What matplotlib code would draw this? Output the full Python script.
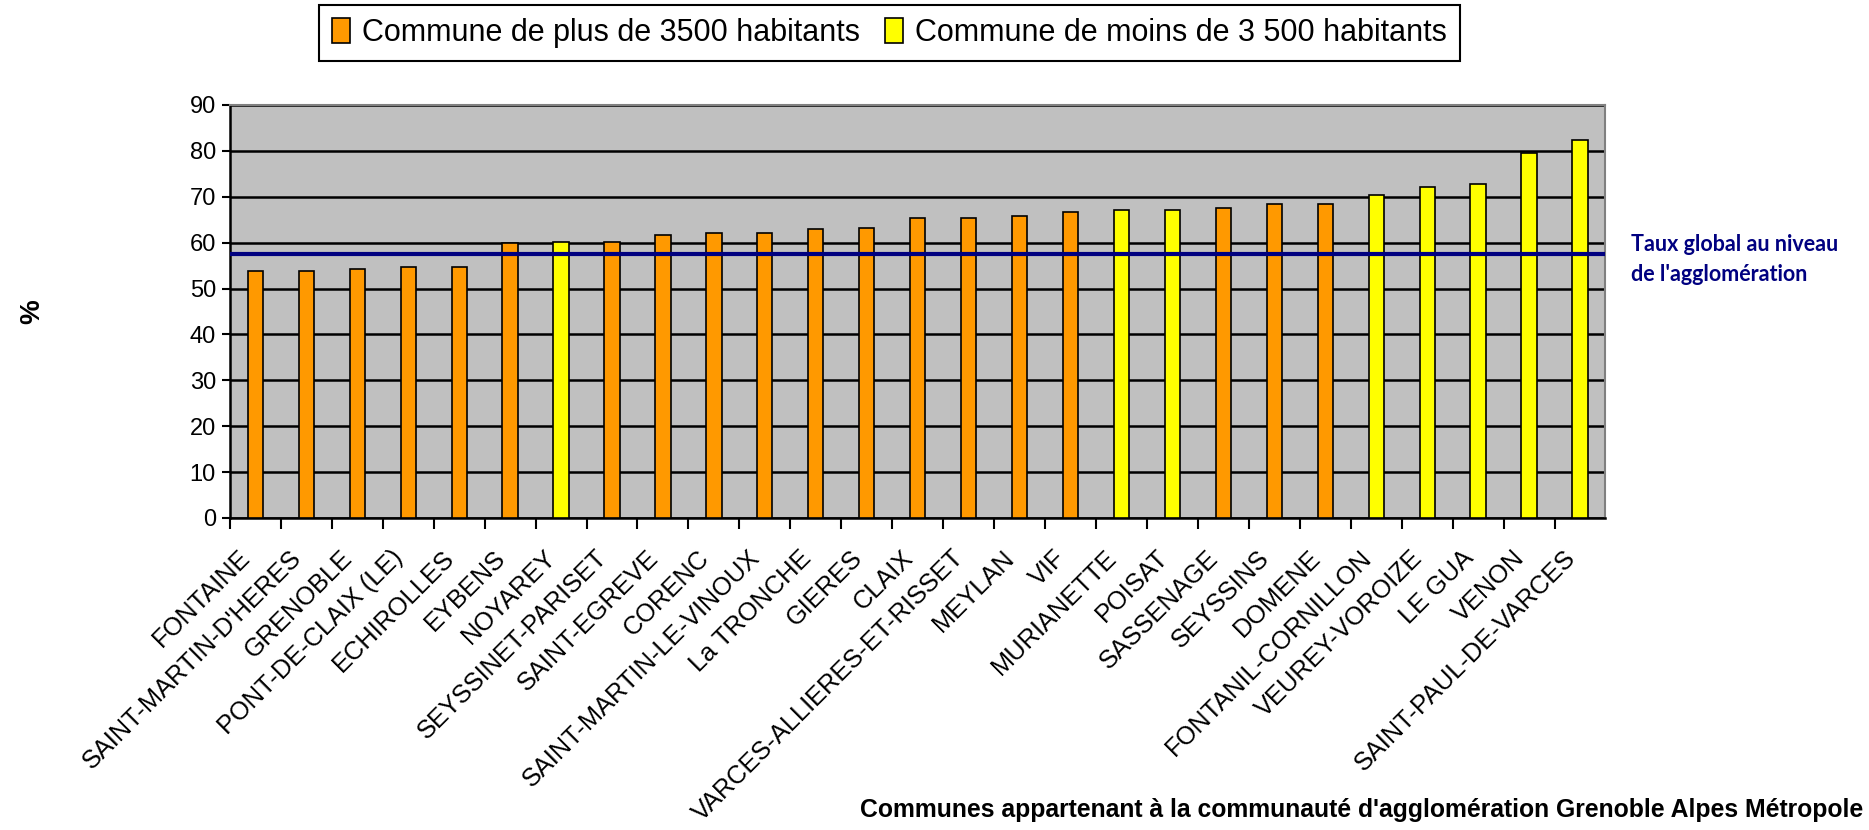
import matplotlib
matplotlib.use("Agg")
import matplotlib.pyplot as plt
from matplotlib.patches import Patch
from matplotlib import font_manager
from matplotlib.transforms import ScaledTranslation

communes = ["FONTAINE", "SAINT-MARTIN-D'HERES", "GRENOBLE", "PONT-DE-CLAIX (LE)",
            "ECHIROLLES", "EYBENS", "NOYAREY", "SEYSSINET-PARISET", "SAINT-EGREVE",
            "CORENC", "SAINT-MARTIN-LE-VINOUX", "La TRONCHE", "GIERES", "CLAIX",
            "VARCES-ALLIERES-ET-RISSET", "MEYLAN", "VIF", "MURIANETTE", "POISAT",
            "SASSENAGE", "SEYSSINS", "DOMENE", "FONTANIL-CORNILLON", "VEUREY-VOROIZE",
            "LE GUA", "VENON", "SAINT-PAUL-DE-VARCES"]
values = [53.8, 53.8, 54.2, 54.7, 54.7, 59.9, 60.2, 60.2, 61.6, 62.1, 62.1, 63.0,
          63.2, 65.3, 65.3, 65.8, 66.6, 67.2, 67.2, 67.6, 68.5, 68.5, 70.3, 72.2,
          72.7, 79.6, 82.3]
# 1 = commune de plus de 3500 habitants, 0 = moins de 3 500
plus_3500 = [1, 1, 1, 1, 1, 1, 0, 1, 1, 1, 1, 1, 1, 1, 1, 1, 1, 0, 0, 1, 1, 1, 0, 0, 0, 0, 0]
taux_global = 57.5
legend_labels = ["Commune de plus de 3500 habitants", "Commune de moins de 3 500 habitants"]
y_ticks = list(range(0, 91, 10))

ORANGE = "#FF9900"
YELLOW = "#FFFF00"
NAVY = "#000080"

installed = {f.name for f in font_manager.fontManager.ttflist}
narrow = "Liberation Sans Narrow" if "Liberation Sans Narrow" in installed else "Liberation Sans"
plt.rcParams['font.family'] = ['Liberation Sans', 'DejaVu Sans']

fig = plt.figure(figsize=(18.69, 8.30), dpi=100)
ax = fig.add_axes([0.123, 0.376, 0.736, 0.4975])
ax.set_facecolor("#C0C0C0")

x = list(range(len(communes)))
colors = [ORANGE if p else YELLOW for p in plus_3500]
ax.bar(x, values, width=0.3, color=colors, edgecolor="black", linewidth=1.2, zorder=3)
ax.axhline(taux_global, color=NAVY, linewidth=3, zorder=4)

ax.set_xlim(-0.5, len(communes) - 0.5)
ax.set_ylim(0, 90)
ax.set_yticks(y_ticks)
ax.tick_params(axis='y', labelsize=17, length=6, width=1.5, direction='out', pad=4)
ax.yaxis.grid(True, color="black", linewidth=1.8, zorder=0)
ax.set_axisbelow(True)

ax.set_xticks([i + 0.5 for i in x[:-1]] + [-0.5], minor=True)
ax.set_xticks(x)
ax.set_xticklabels(communes, rotation=45, ha='right', rotation_mode='anchor', fontsize=18.3)
ax.tick_params(axis='x', which='major', length=0, pad=12)
ax.tick_params(axis='x', which='minor', length=8, width=1.5, direction='out')
offset = ScaledTranslation(-0.17, -0.11, fig.dpi_scale_trans)
for lbl in ax.get_xticklabels():
    lbl.set_transform(lbl.get_transform() + offset)

for s in ['left', 'bottom']:
    ax.spines[s].set_color('black')
    ax.spines[s].set_linewidth(1.8)
for s in ['top', 'right']:
    ax.spines[s].set_color('#808080')
    ax.spines[s].set_linewidth(1.5)

ax.set_ylabel("%", fontsize=20, fontweight='bold')
ax.yaxis.set_label_coords(-0.134, 0.5)

ax.text(1.0185, (taux_global + 2.2) / 90, "Taux global au niveau",
        transform=ax.transAxes, color=NAVY, fontsize=15.5, fontweight='bold',
        family=['Lato', 'DejaVu Sans'], va='center', ha='left')
ax.text(1.0185, (taux_global - 4.4) / 90, "de l'agglomération",
        transform=ax.transAxes, color=NAVY, fontsize=15.5, fontweight='bold',
        family=['Lato', 'DejaVu Sans'], va='center', ha='left')

fig.text(0.997, 0.024, "Communes appartenant à la communauté d'agglomération Grenoble Alpes Métropole",
         ha='right', va='center', fontsize=17.8, fontweight='bold', family=[narrow, 'DejaVu Sans'])

handles = [Patch(facecolor=ORANGE, edgecolor='black', linewidth=1.2),
           Patch(facecolor=YELLOW, edgecolor='black', linewidth=1.2)]
leg = fig.legend(handles, legend_labels, loc='center', bbox_to_anchor=(0.476, 0.96), ncol=2,
                 frameon=True, fancybox=False, edgecolor='black', framealpha=1,
                 prop={'family': [narrow, 'DejaVu Sans'], 'size': 22},
                 handlelength=0.6, handleheight=0.9, handletextpad=0.4, columnspacing=0.8,
                 borderpad=0.42, borderaxespad=0)
leg.get_frame().set_linewidth(1.5)

fig.savefig("out.png", dpi=100)
